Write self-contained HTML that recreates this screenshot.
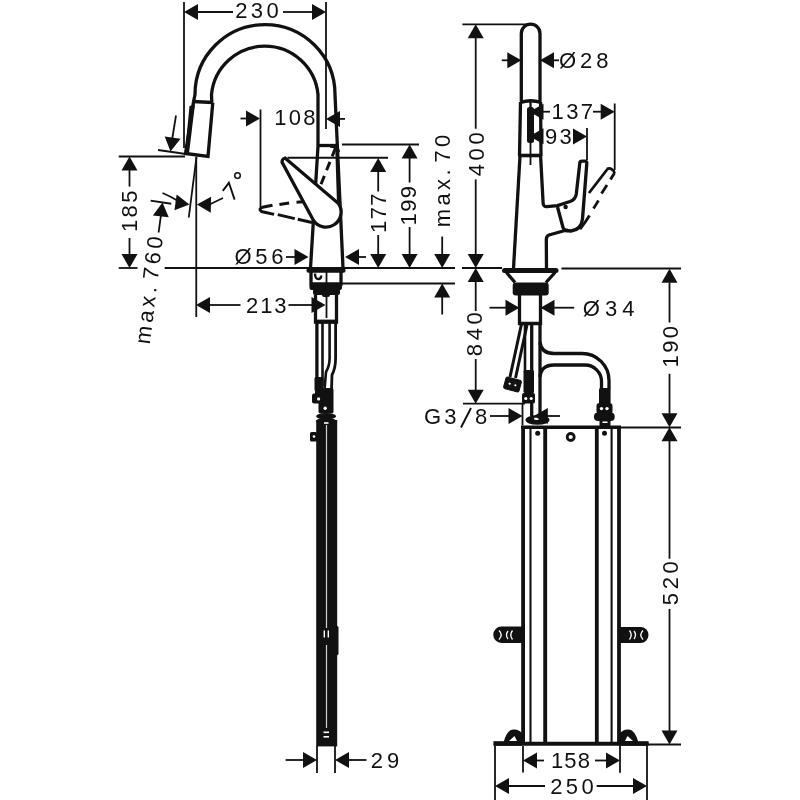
<!DOCTYPE html>
<html><head><meta charset="utf-8"><style>
html,body{margin:0;padding:0;background:#fff;width:800px;height:800px;overflow:hidden}
svg{display:block;will-change:transform}
text{font-family:"Liberation Sans",sans-serif;fill:#111;stroke:none}
</style></head><body>
<svg width="800" height="800" viewBox="0 0 800 800" stroke="#111" fill="none">
<line x1="184" y1="2" x2="184" y2="148" stroke-width="1.8" stroke-linecap="butt"/>
<line x1="326" y1="2" x2="326" y2="129" stroke-width="1.8" stroke-linecap="butt"/>
<line x1="197" y1="12" x2="233" y2="12" stroke-width="1.8" stroke-linecap="butt"/>
<line x1="283" y1="12" x2="313" y2="12" stroke-width="1.8" stroke-linecap="butt"/>
<polygon points="184.00,12.00 198.00,4.00 198.00,20.00" fill="#111" stroke="none"/>
<polygon points="326.00,12.00 312.00,20.00 312.00,4.00" fill="#111" stroke="none"/>
<text x="258.7" y="18" text-anchor="middle" font-size="22" letter-spacing="3.4">230</text>
<path d="M193.5,102 L195,94.5 A70,70 0 0 1 335,94.5 L343,268" stroke-width="3.3" fill="none" />
<path d="M211.8,102 L211.5,94.5 A53.5,53.5 0 0 1 318,94.5 L318,146 L310.5,268" stroke-width="3.3" fill="none" />
<line x1="318" y1="145.5" x2="337" y2="145.5" stroke-width="3.3" stroke-linecap="butt"/>
<line x1="192.5" y1="101.5" x2="213" y2="102.5" stroke-width="3.6" stroke-linecap="butt"/>
<polygon points="189.5,106 195,104.5 189,153 185,153" fill="#111" stroke="none"/>
<path d="M193.5,102 L185.5,153.5 L208,156.5 L212.8,102.5" stroke-width="3.3" fill="none" />
<line x1="118.75" y1="156.5" x2="185" y2="156.5" stroke-width="1.8" stroke-linecap="butt"/>
<line x1="158" y1="150" x2="186" y2="154" stroke-width="1.8" stroke-linecap="butt"/>
<line x1="176" y1="115.5" x2="172.2" y2="139" stroke-width="1.8" stroke-linecap="butt"/>
<polygon points="170.50,151.50 164.71,136.45 180.53,138.87" fill="#111" stroke="none"/>
<line x1="196.25" y1="156.5" x2="196.25" y2="317" stroke-width="1.8" stroke-linecap="butt"/>
<line x1="196.5" y1="157" x2="188.75" y2="217.5" stroke-width="1.8" stroke-linecap="butt"/>
<path d="M162.5,193 Q170,196 178,201" stroke-width="1.8" fill="none" />
<polygon points="189.40,204.40 174.42,210.37 176.65,194.53" fill="#111" stroke="none"/>
<polygon points="196.90,204.40 211.04,196.65 210.76,212.64" fill="#111" stroke="none"/>
<line x1="209.5" y1="204.5" x2="223" y2="198" stroke-width="1.8" stroke-linecap="butt"/>
<path d="M222.8,190.8 L228.9,182.8 L234.6,199.6" stroke-width="1.9" fill="none" />
<circle cx="237.5" cy="175.6" r="2.8" fill="none" stroke="#111" stroke-width="1.5"/>
<line x1="150.6" y1="200.6" x2="171.25" y2="203.75" stroke-width="1.8" stroke-linecap="butt"/>
<polygon points="162.50,202.50 168.73,217.37 152.85,215.42" fill="#111" stroke="none"/>
<line x1="160.9" y1="215.7" x2="158.6" y2="232.5" stroke-width="1.8" stroke-linecap="butt"/>
<text transform="translate(156.4,291) rotate(-83)" x="1.7" y="0" text-anchor="middle" font-size="22" letter-spacing="3.4">max.<tspan dx="-6">&#160;760</tspan></text>
<polygon points="129.50,156.50 137.50,170.50 121.50,170.50" fill="#111" stroke="none"/>
<line x1="129.5" y1="170" x2="129.5" y2="186.6" stroke-width="1.8" stroke-linecap="butt"/>
<text transform="translate(136.6,211.3) rotate(-90)" x="1.15" y="0" text-anchor="middle" font-size="22" letter-spacing="2.3">185</text>
<line x1="129.5" y1="238" x2="129.5" y2="254.5" stroke-width="1.8" stroke-linecap="butt"/>
<polygon points="129.50,268.00 121.50,254.00 137.50,254.00" fill="#111" stroke="none"/>
<line x1="118.75" y1="268" x2="137.5" y2="268" stroke-width="1.8" stroke-linecap="butt"/>
<line x1="164.7" y1="268" x2="455" y2="268" stroke-width="1.8" stroke-linecap="butt"/>
<line x1="462" y1="268" x2="502" y2="268" stroke-width="1.8" stroke-linecap="butt"/>
<line x1="561.5" y1="268.5" x2="681" y2="268.5" stroke-width="1.8" stroke-linecap="butt"/>
<line x1="240.5" y1="118.5" x2="247" y2="118.5" stroke-width="1.8" stroke-linecap="butt"/>
<polygon points="260.00,118.50 246.00,126.50 246.00,110.50" fill="#111" stroke="none"/>
<line x1="260.5" y1="109.5" x2="260.5" y2="207" stroke-width="1.8" stroke-linecap="butt"/>
<polygon points="326.00,118.90 340.00,110.90 340.00,126.90" fill="#111" stroke="none"/>
<line x1="339" y1="118.9" x2="345" y2="118.9" stroke-width="1.8" stroke-linecap="butt"/>
<text x="295.95000000000005" y="125" text-anchor="middle" font-size="22" letter-spacing="2.2">108</text>
<line x1="342" y1="144.5" x2="419" y2="144.5" stroke-width="1.8" stroke-linecap="butt"/>
<line x1="287.5" y1="157.75" x2="388" y2="157.75" stroke-width="1.8" stroke-linecap="butt"/>
<polygon points="378.20,158.00 386.20,172.00 370.20,172.00" fill="#111" stroke="none"/>
<line x1="378.2" y1="171" x2="378.2" y2="191.5" stroke-width="1.8" stroke-linecap="butt"/>
<text transform="translate(386,213.25) rotate(-90)" x="0.7" y="0" text-anchor="middle" font-size="22" letter-spacing="1.4">177</text>
<line x1="378.2" y1="235" x2="378.2" y2="254.5" stroke-width="1.8" stroke-linecap="butt"/>
<polygon points="378.20,268.00 370.20,254.00 386.20,254.00" fill="#111" stroke="none"/>
<polygon points="409.60,144.50 417.60,158.50 401.60,158.50" fill="#111" stroke="none"/>
<line x1="409.6" y1="158" x2="409.6" y2="182.5" stroke-width="1.8" stroke-linecap="butt"/>
<text transform="translate(416,205.75) rotate(-90)" x="0.65" y="0" text-anchor="middle" font-size="22" letter-spacing="1.3">199</text>
<line x1="409.6" y1="227" x2="409.6" y2="254.5" stroke-width="1.8" stroke-linecap="butt"/>
<polygon points="409.60,268.00 401.60,254.00 417.60,254.00" fill="#111" stroke="none"/>
<text transform="translate(449.7,181) rotate(-90)" x="1.7" y="0" text-anchor="middle" font-size="22" letter-spacing="3.4">max.<tspan dx="-6">&#160;70</tspan></text>
<line x1="442.2" y1="236.5" x2="442.2" y2="254.5" stroke-width="1.8" stroke-linecap="butt"/>
<polygon points="442.20,268.00 434.20,254.00 450.20,254.00" fill="#111" stroke="none"/>
<line x1="342" y1="283.5" x2="455" y2="283.5" stroke-width="1.8" stroke-linecap="butt"/>
<polygon points="442.20,283.50 450.20,297.50 434.20,297.50" fill="#111" stroke="none"/>
<line x1="442.2" y1="297" x2="442.2" y2="314.5" stroke-width="1.8" stroke-linecap="butt"/>
<path d="M335.5,148 L319.5,188" stroke-width="3.0" fill="none" stroke-dasharray="9 6"/>
<line x1="336.6" y1="150" x2="338.3" y2="204" stroke-width="2.6" stroke-linecap="butt"/>
<path d="M330,146 Q338,146 338.5,152" stroke-width="3.3" fill="none" />
<path d="M303,201.8 L296.5,202.2 M289.1,203 L279.4,204.6 M272.5,205.2 L262.5,207.3 Q258,209 261.5,211.5 L274.1,214.4 M277.8,214.6 L294.8,218.6 M297.8,219.3 L312,222.5" stroke-width="3.0" fill="none" />
<path d="M285,158 L338.5,203.5 A14,14 0 0 1 313.5,220.5 L283,164 A3.6,3.6 0 0 1 285,158 Z" stroke-width="3.3" fill="#fff" />
<line x1="286" y1="257" x2="295" y2="257" stroke-width="1.8" stroke-linecap="butt"/>
<polygon points="308.50,257.00 294.50,265.00 294.50,249.00" fill="#111" stroke="none"/>
<polygon points="345.00,257.00 359.00,249.00 359.00,265.00" fill="#111" stroke="none"/>
<line x1="358" y1="257" x2="366" y2="257" stroke-width="1.8" stroke-linecap="butt"/>
<text x="260.9" y="263.5" text-anchor="middle" font-size="22" letter-spacing="3.8">&#216;56</text>
<rect x="306.5" y="268" width="39" height="4.8" rx="2" fill="#111" stroke="none"/>
<path d="M311,272 L311,284 L341,284 L341,272" stroke-width="3.3" fill="none" />
<line x1="326.5" y1="272" x2="326.5" y2="318" stroke-width="1.8" stroke-linecap="butt"/>
<path d="M315,273.5 Q315,279.5 319,279 Q321.5,278.5 321,275.5" stroke-width="2.4" fill="none" />
<rect x="309.5" y="284" width="32.5" height="6" rx="2" fill="#111" stroke="none"/>
<rect x="313" y="289" width="27" height="6" rx="2" fill="#111" stroke="none"/>
<rect x="322" y="293" width="8" height="4" rx="2" fill="#111" stroke="none"/>
<path d="M315.5,295 L315.5,322 L336.5,322 L336.5,295" stroke-width="3.3" fill="none" />
<line x1="315" y1="321.5" x2="337.5" y2="321.5" stroke-width="3.8" stroke-linecap="butt"/>
<polygon points="196.00,305.00 210.00,297.00 210.00,313.00" fill="#111" stroke="none"/>
<line x1="210" y1="305" x2="240.5" y2="305" stroke-width="1.8" stroke-linecap="butt"/>
<text x="267.15" y="312.5" text-anchor="middle" font-size="22" letter-spacing="1.8">213</text>
<line x1="288.5" y1="305" x2="312" y2="305" stroke-width="1.8" stroke-linecap="butt"/>
<polygon points="325.50,305.00 311.50,313.00 311.50,297.00" fill="#111" stroke="none"/>
<line x1="316.9" y1="323" x2="316.9" y2="390" stroke-width="3.3" stroke-linecap="butt"/>
<line x1="322.5" y1="323" x2="322.5" y2="386" stroke-width="2.6" stroke-linecap="butt"/>
<path d="M329.6,323 L329.6,358 Q329.6,366 326,372 L324.5,390" stroke-width="2.6" fill="none" />
<path d="M335.6,323 L335.6,358 Q335.6,368 332,375 L331.5,390" stroke-width="2.8" fill="none" />
<rect x="315" y="388" width="18" height="7" rx="1" fill="#111" stroke="none"/>
<rect x="314.5" y="377" width="9" height="14" rx="1.5" fill="#111" stroke="none"/>
<rect x="312" y="393.5" width="10" height="10" rx="2" fill="#111" stroke="none"/>
<rect x="318.5" y="388" width="15" height="25.5" rx="2" fill="#111" stroke="none"/>
<circle cx="318.6" cy="398.9" r="1.6" fill="#fff" stroke="none" stroke-width="0"/>
<circle cx="325.2" cy="408.3" r="1.7" fill="#fff" stroke="none" stroke-width="0"/>
<ellipse cx="326.1" cy="416.3" rx="10" ry="3.2" fill="#111" stroke="none"/>
<ellipse cx="326.1" cy="421" rx="10" ry="3.2" fill="#111" stroke="none"/>
<rect x="316.2" y="420" width="21" height="326.4" rx="0" fill="#111" stroke="none"/>
<rect x="325.9" y="425" width="1.2" height="203" rx="0" fill="#d0d0d0" stroke="none"/>
<rect x="325.9" y="645" width="1.2" height="83" rx="0" fill="#d0d0d0" stroke="none"/>
<rect x="324" y="422.2" width="4.5" height="1.6" rx="0" fill="#fff" stroke="none"/>
<rect x="310" y="432" width="7" height="9.5" rx="1.5" fill="#111" stroke="none"/>
<circle cx="314" cy="436.5" r="1.3" fill="#fff" stroke="none" stroke-width="0"/>
<rect x="335" y="626" width="3.5" height="29" rx="1.5" fill="#111" stroke="none"/>
<rect x="323.6" y="630.5" width="1.4" height="7" rx="0" fill="#fff" stroke="none"/>
<rect x="327.6" y="630.5" width="1.4" height="7" rx="0" fill="#fff" stroke="none"/>
<rect x="323.5" y="731.5" width="5.5" height="1.6" rx="0" fill="#fff" stroke="none"/>
<rect x="323.5" y="736" width="5.5" height="1.6" rx="0" fill="#fff" stroke="none"/>
<line x1="317" y1="746" x2="317" y2="773" stroke-width="1.8" stroke-linecap="butt"/>
<line x1="335" y1="746" x2="335" y2="773" stroke-width="1.8" stroke-linecap="butt"/>
<line x1="285.6" y1="760" x2="304" y2="760" stroke-width="1.8" stroke-linecap="butt"/>
<polygon points="317.00,760.00 303.00,768.00 303.00,752.00" fill="#111" stroke="none"/>
<polygon points="335.00,760.00 349.00,752.00 349.00,768.00" fill="#111" stroke="none"/>
<line x1="349" y1="760" x2="366.5" y2="760" stroke-width="1.8" stroke-linecap="butt"/>
<text x="386.9" y="768" text-anchor="middle" font-size="22" letter-spacing="3.8">29</text>
<path d="M521.3,101.5 L521.3,33.5 A9.35,9.35 0 0 1 540,33.5 L540,101.5" stroke-width="3.3" fill="none" />
<path d="M520.5,102.5 Q530.5,99 541,102.5" stroke-width="3.3" fill="none" />
<line x1="520.5" y1="102" x2="519.5" y2="156" stroke-width="3.3" stroke-linecap="butt"/>
<line x1="540.6" y1="102" x2="541" y2="156" stroke-width="3.3" stroke-linecap="butt"/>
<line x1="518.5" y1="155.5" x2="542" y2="155.5" stroke-width="3.6" stroke-linecap="butt"/>
<line x1="530.5" y1="101" x2="530.5" y2="165" stroke-width="1.8" stroke-linecap="butt"/>
<line x1="520" y1="156" x2="513.5" y2="268.5" stroke-width="3.3" stroke-linecap="butt"/>
<path d="M540.6,156 L543.1,203 Q543.3,207 547,206.6 L557.5,205.6 L570,201.5 Q575.5,199.5 576.3,194 L579.8,163 Q580,161.2 582,161.2 L585,161.2 Q587,161.2 586.8,163.5 L582.5,219 Q581.5,229.5 571,231 L565,230.5" stroke-width="3.3" fill="none" />
<path d="M557.5,207 L563,227.5 Q564,230.5 568,230.5" stroke-width="3.3" fill="none" />
<path d="M565,230.5 L549,235 Q546.2,236 546.3,240 L546.5,268.5" stroke-width="3.3" fill="none" />
<circle cx="565.6" cy="207" r="2.2" fill="#111" stroke="none" stroke-width="0"/>
<path d="M607.5,169 L589,193" stroke-width="2.8" fill="none" />
<path d="M607,169 Q609.5,167.5 612,169.5 Q614.5,171 614.5,173" stroke-width="2.8" fill="none" />
<path d="M614.5,173 L610.5,179.5" stroke-width="2.8" fill="none" />
<path d="M607,185 L601.5,193.5" stroke-width="2.8" fill="none" />
<path d="M598.5,200.5 L593.5,208.5" stroke-width="2.8" fill="none" />
<path d="M589.5,215.5 Q585,223 580,229" stroke-width="2.8" fill="none" />
<line x1="614.7" y1="103.5" x2="614.7" y2="170" stroke-width="1.8" stroke-linecap="butt"/>
<line x1="587" y1="128" x2="587" y2="160" stroke-width="1.8" stroke-linecap="butt"/>
<line x1="462.4" y1="24.3" x2="531" y2="24.3" stroke-width="1.8" stroke-linecap="butt"/>
<polygon points="475.70,24.30 483.70,38.30 467.70,38.30" fill="#111" stroke="none"/>
<line x1="475.7" y1="38" x2="475.7" y2="128.75" stroke-width="1.8" stroke-linecap="butt"/>
<text transform="translate(483.75,154.3) rotate(-90)" x="1.8" y="0" text-anchor="middle" font-size="22" letter-spacing="3.6">400</text>
<line x1="475.7" y1="179.4" x2="475.7" y2="254.5" stroke-width="1.8" stroke-linecap="butt"/>
<polygon points="475.70,268.00 467.70,254.00 483.70,254.00" fill="#111" stroke="none"/>
<polygon points="475.70,268.00 483.70,282.00 467.70,282.00" fill="#111" stroke="none"/>
<line x1="475.7" y1="282" x2="475.7" y2="311" stroke-width="1.8" stroke-linecap="butt"/>
<text transform="translate(482,334.25) rotate(-90)" x="1.8" y="0" text-anchor="middle" font-size="22" letter-spacing="3.6">840</text>
<line x1="475.7" y1="359" x2="475.7" y2="390.5" stroke-width="1.8" stroke-linecap="butt"/>
<polygon points="475.70,403.70 467.70,389.70 483.70,389.70" fill="#111" stroke="none"/>
<line x1="463" y1="403.7" x2="525" y2="403.7" stroke-width="1.8" stroke-linecap="butt"/>
<line x1="501.8" y1="60.3" x2="508" y2="60.3" stroke-width="1.8" stroke-linecap="butt"/>
<polygon points="521.30,60.30 507.30,68.30 507.30,52.30" fill="#111" stroke="none"/>
<polygon points="540.00,60.30 554.00,52.30 554.00,68.30" fill="#111" stroke="none"/>
<line x1="553" y1="60.3" x2="559" y2="60.3" stroke-width="1.8" stroke-linecap="butt"/>
<text x="585.75" y="67.5" text-anchor="middle" font-size="22" letter-spacing="3.9">&#216;28</text>
<polygon points="529.50,111.70 543.50,103.70 543.50,119.70" fill="#111" stroke="none"/>
<line x1="543" y1="111.7" x2="550" y2="111.7" stroke-width="1.8" stroke-linecap="butt"/>
<text x="573.4" y="118.7" text-anchor="middle" font-size="22" letter-spacing="2.3">137</text>
<line x1="593" y1="111.7" x2="601" y2="111.7" stroke-width="1.8" stroke-linecap="butt"/>
<polygon points="614.70,111.70 600.70,119.70 600.70,103.70" fill="#111" stroke="none"/>
<polygon points="529.50,136.30 543.50,128.30 543.50,144.30" fill="#111" stroke="none"/>
<text x="559.5" y="143.5" text-anchor="middle" font-size="22" letter-spacing="2.3">93</text>
<polygon points="587.00,136.50 573.00,144.50 573.00,128.50" fill="#111" stroke="none"/>
<rect x="527" y="107" width="7" height="36" rx="2.5" fill="#111" stroke="none"/>
<line x1="530.5" y1="101" x2="530.5" y2="107" stroke-width="1.8" stroke-linecap="butt"/>
<rect x="502" y="268" width="56.5" height="5" rx="2.5" fill="#111" stroke="none"/>
<line x1="506.5" y1="272.5" x2="515" y2="282.5" stroke-width="3.3" stroke-linecap="butt"/>
<line x1="555" y1="272.5" x2="546" y2="282.5" stroke-width="3.3" stroke-linecap="butt"/>
<rect x="512.7" y="282.5" width="36" height="13" rx="3" fill="#111" stroke="none"/>
<path d="M519.5,295 L519.5,323.5 L540.5,323.5 L540.5,295" stroke-width="3.3" fill="none" />
<line x1="489.5" y1="307.7" x2="507" y2="307.7" stroke-width="1.8" stroke-linecap="butt"/>
<polygon points="519.50,307.70 505.50,315.70 505.50,299.70" fill="#111" stroke="none"/>
<polygon points="540.50,307.70 554.50,299.70 554.50,315.70" fill="#111" stroke="none"/>
<line x1="554" y1="307.7" x2="574.2" y2="307.7" stroke-width="1.8" stroke-linecap="butt"/>
<text x="611.1" y="316" text-anchor="middle" font-size="22" letter-spacing="5.0">&#216;34</text>
<path d="M521.5,324 L510,377" stroke-width="3.0" fill="none" />
<path d="M527,325 L515.5,378" stroke-width="3.0" fill="none" />
<g transform="translate(512.5,384.5) rotate(15)"><rect x="-8" y="-6" width="16" height="12" rx="2" fill="#111"/><circle cx="-3" cy="0" r="1.6" fill="#fff"/><circle cx="3" cy="0" r="1.6" fill="#fff"/></g>
<line x1="525" y1="323" x2="525" y2="372" stroke-width="2.6" stroke-linecap="butt"/>
<line x1="531.7" y1="323" x2="531.7" y2="416" stroke-width="3.3" stroke-linecap="butt"/>
<line x1="540" y1="323" x2="540" y2="420" stroke-width="3.3" stroke-linecap="butt"/>
<rect x="523.5" y="370" width="10.5" height="23" rx="1.5" fill="#111" stroke="none"/>
<rect x="522" y="393" width="13" height="10.5" rx="2" fill="#111" stroke="none"/>
<circle cx="525.8" cy="398.5" r="1.6" fill="#fff" stroke="none" stroke-width="0"/>
<circle cx="531.2" cy="398.5" r="1.6" fill="#fff" stroke="none" stroke-width="0"/>
<path d="M540,342 Q541,353.5 554,353.5 L582,353.5 A27,27 0 0 1 609,380.5 L609,389" stroke-width="3.3" fill="none" />
<path d="M540,377 Q541,365 554,365 L585,365 A16.5,16.5 0 0 1 601.5,381.5 L601.5,389" stroke-width="3.3" fill="none" />
<rect x="599" y="388" width="11.6" height="16" rx="1.5" fill="#111" stroke="none"/>
<rect x="596.5" y="403" width="16" height="11" rx="3" fill="#111" stroke="none"/>
<circle cx="601.5" cy="408.6" r="1.7" fill="#fff" stroke="none" stroke-width="0"/>
<circle cx="607" cy="408.6" r="1.7" fill="#fff" stroke="none" stroke-width="0"/>
<rect x="594" y="412.5" width="20.7" height="8.5" rx="4" fill="#111" stroke="none"/>
<rect x="599.5" y="420" width="11" height="7" rx="1" fill="#111" stroke="none"/>
<rect x="602.5" y="421.5" width="5" height="1.5" rx="0" fill="#fff" stroke="none"/>
<ellipse cx="537.5" cy="420" rx="12" ry="4.8" fill="#111" stroke="none"/>
<ellipse cx="536.5" cy="418.8" rx="2.6" ry="1.2" fill="#fff" stroke="none"/>
<text x="441.75" y="423.8" text-anchor="middle" font-size="22" letter-spacing="3.0">G3</text>
<text x="481.0" y="423.8" text-anchor="middle" font-size="22" letter-spacing="0">8</text>
<line x1="471" y1="408" x2="461" y2="427.5" stroke-width="1.9" stroke-linecap="butt"/>
<line x1="490" y1="416" x2="509" y2="416" stroke-width="1.8" stroke-linecap="butt"/>
<polygon points="522.50,416.00 508.50,424.00 508.50,408.00" fill="#111" stroke="none"/>
<line x1="522.5" y1="403.7" x2="522.5" y2="425.5" stroke-width="1.8" stroke-linecap="butt"/>
<polygon points="533.80,416.00 547.80,408.00 547.80,424.00" fill="#111" stroke="none"/>
<line x1="547" y1="416" x2="560" y2="416" stroke-width="1.8" stroke-linecap="butt"/>
<line x1="521" y1="427.2" x2="621" y2="427.2" stroke-width="3.6" stroke-linecap="butt"/>
<line x1="621" y1="427.5" x2="681" y2="427.5" stroke-width="1.8" stroke-linecap="butt"/>
<line x1="523.1" y1="427" x2="523.1" y2="744" stroke-width="3.8" stroke-linecap="butt"/>
<line x1="530.5" y1="427" x2="530.5" y2="744" stroke-width="2.1" stroke-linecap="butt"/>
<line x1="545.2" y1="427" x2="545.2" y2="744" stroke-width="3.9" stroke-linecap="butt"/>
<line x1="596.8" y1="427" x2="596.8" y2="744" stroke-width="3.8" stroke-linecap="butt"/>
<line x1="611.6" y1="427" x2="611.6" y2="744" stroke-width="2.1" stroke-linecap="butt"/>
<line x1="619" y1="427" x2="619" y2="744" stroke-width="3.8" stroke-linecap="butt"/>
<circle cx="537.7" cy="433.2" r="2.5" fill="#111" stroke="none" stroke-width="0"/>
<circle cx="604.5" cy="433.2" r="2.5" fill="#111" stroke="none" stroke-width="0"/>
<circle cx="570.7" cy="437" r="3.5" fill="none" stroke="#111" stroke-width="2.8"/>
<line x1="494" y1="743.8" x2="648.5" y2="743.8" stroke-width="3.9" stroke-linecap="butt"/>
<line x1="648" y1="744.5" x2="681" y2="744.5" stroke-width="1.8" stroke-linecap="butt"/>
<path d="M523,626.5 L501.5,626.5 A8.25,8.25 0 0 0 501.5,643 L523,643 Z" stroke-width="0" fill="#111" />
<path d="M619,627 L640.5,627 A8,8 0 0 1 640.5,643 L619,643 Z" stroke-width="0" fill="#111" />
<path d="M499,630.5 Q503.5,635 499,639.5" stroke="#fff" stroke-width="1.3" fill="none"/>
<path d="M508,631 Q505,635 508,639" stroke="#fff" stroke-width="1.3" fill="none"/>
<path d="M512.5,630.5 Q509,635 512.5,639.5" stroke="#fff" stroke-width="1.3" fill="none"/>
<path d="M643,630.5 Q638.5,635 643,639.5" stroke="#fff" stroke-width="1.3" fill="none"/>
<path d="M634,631 Q637,635 634,639" stroke="#fff" stroke-width="1.3" fill="none"/>
<path d="M629.5,630.5 Q633,635 629.5,639.5" stroke="#fff" stroke-width="1.3" fill="none"/>
<path d="M503.5,742.5 Q507,730 513,729.5 Q519.5,729 522.5,734 L522.5,742.5 Z" stroke-width="0" fill="#111" />
<polygon points="509,741 514.5,736 517,741" fill="#fff" stroke="none"/>
<line x1="493.4" y1="743.5" x2="522" y2="743.5" stroke-width="4.5" stroke-linecap="butt"/>
<path d="M638.5,742.5 Q635,730 629,729.5 Q622.5,729 619.5,734 L619.5,742.5 Z" stroke-width="0" fill="#111" />
<polygon points="633,741 627.5,736 625,741" fill="#fff" stroke="none"/>
<line x1="619" y1="743.5" x2="648.5" y2="743.5" stroke-width="4.5" stroke-linecap="butt"/>
<polygon points="669.50,268.75 677.50,282.75 661.50,282.75" fill="#111" stroke="none"/>
<line x1="669.5" y1="282.5" x2="669.5" y2="322.5" stroke-width="1.8" stroke-linecap="butt"/>
<text transform="translate(677.5,346.75) rotate(-90)" x="1.15" y="0" text-anchor="middle" font-size="22" letter-spacing="2.3">190</text>
<line x1="669.5" y1="373.75" x2="669.5" y2="413.75" stroke-width="1.8" stroke-linecap="butt"/>
<polygon points="669.50,427.30 661.50,413.30 677.50,413.30" fill="#111" stroke="none"/>
<polygon points="669.50,427.30 677.50,441.30 661.50,441.30" fill="#111" stroke="none"/>
<line x1="669.5" y1="441" x2="669.5" y2="558.75" stroke-width="1.8" stroke-linecap="butt"/>
<text transform="translate(678,583.2) rotate(-90)" x="1.8" y="0" text-anchor="middle" font-size="22" letter-spacing="3.6">520</text>
<line x1="669.5" y1="609" x2="669.5" y2="731" stroke-width="1.8" stroke-linecap="butt"/>
<polygon points="669.50,744.40 661.50,730.40 677.50,730.40" fill="#111" stroke="none"/>
<line x1="523" y1="746" x2="523" y2="772.5" stroke-width="1.8" stroke-linecap="butt"/>
<line x1="620" y1="746" x2="620" y2="772.7" stroke-width="1.8" stroke-linecap="butt"/>
<polygon points="523.00,760.50 537.00,752.50 537.00,768.50" fill="#111" stroke="none"/>
<line x1="536" y1="760.5" x2="544" y2="760.5" stroke-width="1.8" stroke-linecap="butt"/>
<text x="571.1" y="767.5" text-anchor="middle" font-size="22" letter-spacing="1.2">158</text>
<line x1="595" y1="760.5" x2="607" y2="760.5" stroke-width="1.8" stroke-linecap="butt"/>
<polygon points="620.00,760.50 606.00,768.50 606.00,752.50" fill="#111" stroke="none"/>
<line x1="495" y1="746" x2="495" y2="800" stroke-width="1.8" stroke-linecap="butt"/>
<line x1="647" y1="746" x2="647" y2="800" stroke-width="1.8" stroke-linecap="butt"/>
<polygon points="495.00,786.00 509.00,778.00 509.00,794.00" fill="#111" stroke="none"/>
<line x1="508" y1="786" x2="545" y2="786" stroke-width="1.8" stroke-linecap="butt"/>
<text x="573.7" y="793.75" text-anchor="middle" font-size="22" letter-spacing="3.4">250</text>
<line x1="596.7" y1="786" x2="634" y2="786" stroke-width="1.8" stroke-linecap="butt"/>
<polygon points="647.00,786.00 633.00,794.00 633.00,778.00" fill="#111" stroke="none"/>
</svg>
</body></html>
